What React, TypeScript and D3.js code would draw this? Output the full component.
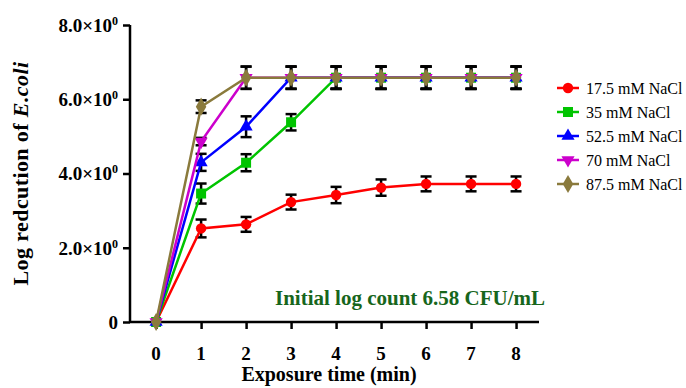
import {useEffect, useRef} from 'react';
import * as d3 from 'd3';

const WIDTH = 686;
const HEIGHT = 388;

const times = [0, 1, 2, 3, 4, 5, 6, 7, 8];
const seriesNames = ['17.5 mM NaCl', '35 mM NaCl', '52.5 mM NaCl', '70 mM NaCl', '87.5 mM NaCl'];
const seriesColors = ['#ff0000', '#00c400', '#0000ff', '#cc00cc', '#8a7a3c'];

const nacl175 = [0, 2.52, 2.63, 3.23, 3.42, 3.62, 3.72, 3.72, 3.72];
const nacl35 = [0, 3.46, 4.29, 5.38, 6.58, 6.58, 6.58, 6.58, 6.58];
const nacl525 = [0, 4.3, 5.26, 6.58, 6.58, 6.58, 6.58, 6.58, 6.58];
const nacl70 = [0, 4.86, 6.58, 6.58, 6.58, 6.58, 6.58, 6.58, 6.58];
const nacl875 = [0, 5.8, 6.58, 6.58, 6.58, 6.58, 6.58, 6.58, 6.58];

const err175 = [0, 0.24, 0.2, 0.2, 0.22, 0.22, 0.2, 0.2, 0.2];
const err35 = [0, 0.27, 0.23, 0.22, 0.3, 0.3, 0.3, 0.3, 0.3];
const err525 = [0, 0.23, 0.28, 0.3, 0.3, 0.3, 0.3, 0.3, 0.3];
const err70 = [0, 0.1, 0.3, 0.3, 0.3, 0.3, 0.3, 0.3, 0.3];
const err875 = [0, 0.17, 0.3, 0.3, 0.3, 0.3, 0.3, 0.3, 0.3];

const yTicks = [0, 2, 4, 6, 8];
const yTickLabels = ['0', '2.0×10', '4.0×10', '6.0×10', '8.0×10'];

const FONT = '"Liberation Serif", "Times New Roman", serif';

export default function App() {
    const svgRef = useRef<SVGSVGElement>(null);

    useEffect(() => {
        const svg = d3.select(svgRef.current);
        svg.selectAll('*').remove();

        const values = [nacl175, nacl35, nacl525, nacl70, nacl875];
        const errors = [err175, err35, err525, err70, err875];
        const symbols = [
            d3.symbol(d3.symbolCircle, 85),
            d3.symbol(d3.symbolSquare, 100),
            d3.symbol(d3.symbolTriangle, 75),
            d3.symbol(d3.symbolTriangle, 75),
            d3.symbol(d3.symbolDiamond, 95),
        ];
        const rotations = [0, 0, 0, 180, 0];

        const x = d3.scaleLinear().domain([-0.58, 8.51]).range([130, 539]);
        const y = d3.scaleLinear().domain([0, 8]).range([322, 25]);

        // axes
        const yAxis = svg.append('g').attr('transform', `translate(${x(-0.58)},0)`)
            .call(d3.axisLeft(y).tickValues(yTicks).tickSize(7).tickFormat(() => ''));
        yAxis.select('.domain').attr('stroke', '#000').attr('stroke-width', 2.5).attr('d', `M0,${y(8)}V${y(0)}`);
        yAxis.selectAll('.tick line').attr('stroke', '#000').attr('stroke-width', 2.5);

        const xAxis = svg.append('g').attr('transform', `translate(0,${y(0)})`)
            .call(d3.axisBottom(x).tickValues(times).tickSize(7).tickFormat(() => ''));
        xAxis.select('.domain').attr('stroke', '#000').attr('stroke-width', 2.5)
            .attr('d', `M${x(-0.58)},0H${x(8.51)}`);
        xAxis.selectAll('.tick line').attr('stroke', '#000').attr('stroke-width', 2.5);

        // tick labels
        yTicks.forEach((t, i) => {
            const txt = svg.append('text')
                .attr('x', 118).attr('y', y(t)).attr('dy', '0.36em')
                .attr('text-anchor', 'end')
                .attr('font-family', FONT).attr('font-weight', 'bold').attr('font-size', 19)
                .text(yTickLabels[i]);
            if (t !== 0) {
                txt.append('tspan').attr('dy', -7).attr('font-size', 12).text('0');
            }
        });
        svg.selectAll('.xlab').data(times).enter().append('text')
            .attr('class', 'xlab')
            .attr('x', d => x(d)).attr('y', 360)
            .attr('text-anchor', 'middle')
            .attr('font-family', FONT).attr('font-weight', 'bold').attr('font-size', 19)
            .text(d => d);

        // axis titles
        svg.append('text')
            .attr('x', 329).attr('y', 381)
            .attr('text-anchor', 'middle')
            .attr('font-family', FONT).attr('font-weight', 'bold').attr('font-size', 20)
            .text('Exposure time (min)');

        const yTitle = svg.append('text')
            .attr('transform', `translate(28,${(y(0) + y(8)) / 2}) rotate(-90)`)
            .attr('text-anchor', 'middle')
            .attr('font-family', FONT).attr('font-weight', 'bold').attr('font-size', 22)
            .attr('letter-spacing', 0.4);
        yTitle.append('tspan').text('Log redcution of ');
        yTitle.append('tspan').attr('font-style', 'italic').text('E.coli');

        // series
        values.forEach((vals, s) => {
            const pts = times.map((t, i) => ({t, v: vals[i], e: errors[s][i]}));
            const g = svg.append('g');
            const eb = g.selectAll('.eb').data(pts.filter(d => d.e > 0)).enter().append('g');
            eb.append('line')
                .attr('x1', d => x(d.t)).attr('x2', d => x(d.t))
                .attr('y1', d => y(d.v - d.e)).attr('y2', d => y(d.v + d.e))
                .attr('stroke', '#000').attr('stroke-width', 2.5);
            eb.append('line')
                .attr('x1', d => x(d.t) - 5.5).attr('x2', d => x(d.t) + 5.5)
                .attr('y1', d => y(d.v + d.e)).attr('y2', d => y(d.v + d.e))
                .attr('stroke', '#000').attr('stroke-width', 2.5);
            eb.append('line')
                .attr('x1', d => x(d.t) - 5.5).attr('x2', d => x(d.t) + 5.5)
                .attr('y1', d => y(d.v - d.e)).attr('y2', d => y(d.v - d.e))
                .attr('stroke', '#000').attr('stroke-width', 2.5);

            g.append('path').datum(pts)
                .attr('fill', 'none')
                .attr('stroke', seriesColors[s])
                .attr('stroke-width', 2.5)
                .attr('d', d3.line<any>().x(d => x(d.t)).y(d => y(d.v)));

            g.selectAll('.pt').data(pts).enter().append('path')
                .attr('transform', d => `translate(${x(d.t)},${y(d.v)}) rotate(${rotations[s]})`)
                .attr('d', symbols[s]())
                .attr('fill', seriesColors[s]);
        });

        // legend
        seriesNames.forEach((name, s) => {
            const ly = 88 + s * 24;
            svg.append('line')
                .attr('x1', 557).attr('x2', 579).attr('y1', ly).attr('y2', ly)
                .attr('stroke', seriesColors[s]).attr('stroke-width', 2.5);
            svg.append('path')
                .attr('transform', `translate(568,${ly}) rotate(${rotations[s]})`)
                .attr('d', symbols[s]())
                .attr('fill', seriesColors[s]);
            svg.append('text')
                .attr('x', 586).attr('y', ly).attr('dy', '0.35em')
                .attr('font-family', FONT).attr('font-size', 16)
                .text(name);
        });

        // annotation
        svg.append('text')
            .attr('x', 275).attr('y', 305)
            .attr('font-family', FONT).attr('font-weight', 'bold').attr('font-size', 21)
            .attr('fill', '#17661c')
            .text('Initial log count 6.58 CFU/mL');
    }, []);

    return (
        <svg ref={svgRef} width={WIDTH} height={HEIGHT}
             style={{position: 'absolute', left: 0, top: 0, background: '#fff'}}></svg>
    );
}
